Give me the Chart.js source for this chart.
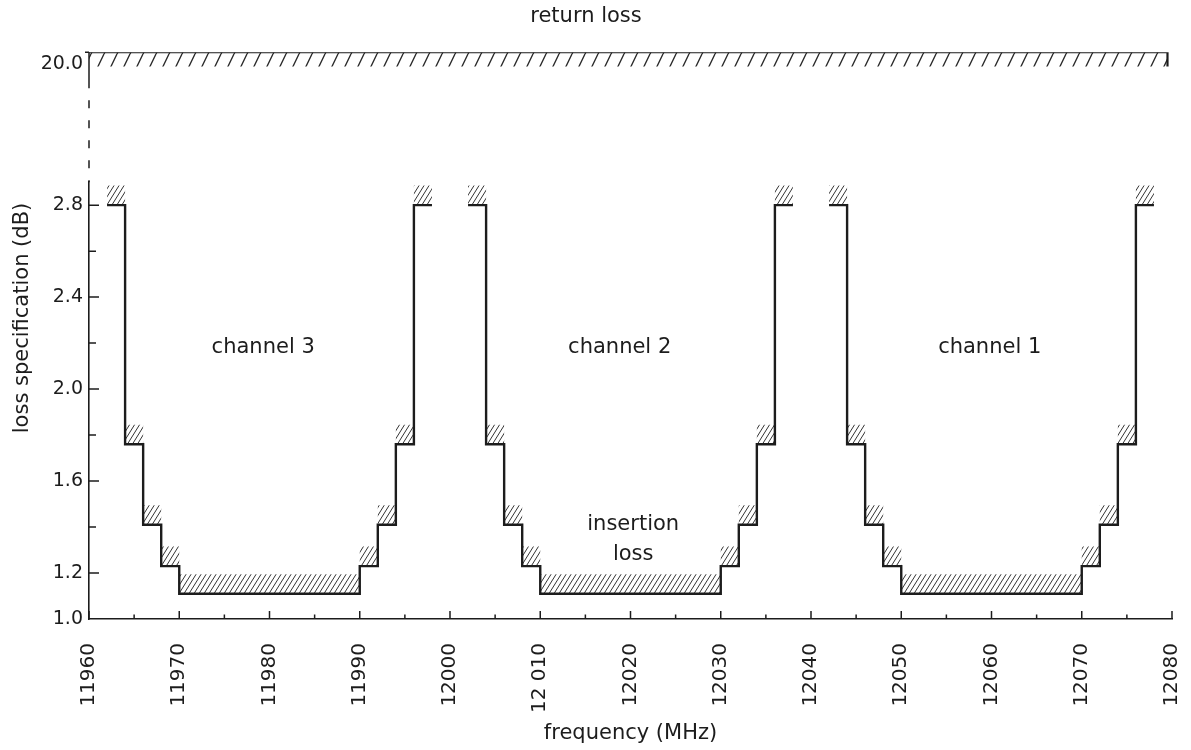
<!DOCTYPE html>
<html>
<head>
<meta charset="utf-8">
<title>return loss / insertion loss spec</title>
<script src="https://cdn.jsdelivr.net/npm/chart.js@4.4.1/dist/chart.umd.min.js"></script>
<style>
  html, body { margin: 0; background: #fff; }
  #wrap { width: 1191px; height: 750px; }
</style>
</head>
<body>
<div id="wrap"><canvas id="lossChart"></canvas></div>
<script>
// step breakpoints (MHz) and the spec level (dB) on each interval between them
const ch3Freq = [11962, 11964, 11966, 11968, 11970, 11990, 11992, 11994, 11996, 11998];
const ch2Freq = [12002, 12004, 12006, 12008, 12010, 12030, 12032, 12034, 12036, 12038];
const ch1Freq = [12042, 12044, 12046, 12048, 12050, 12070, 12072, 12074, 12076, 12078];
const ch3Loss = [2.80, 1.76, 1.41, 1.23, 1.11, 1.23, 1.41, 1.76, 2.80];
const ch2Loss = [2.80, 1.76, 1.41, 1.23, 1.11, 1.23, 1.41, 1.76, 2.80];
const ch1Loss = [2.80, 1.76, 1.41, 1.23, 1.11, 1.23, 1.41, 1.76, 2.80];

const returnLossFreq = [11960, 12079.5];
const returnLossLevel = 20.0;

const xTickValues = [11960, 11965, 11970, 11975, 11980, 11985, 11990, 11995, 12000, 12005, 12010, 12015, 12020,
  12025, 12030, 12035, 12040, 12045, 12050, 12055, 12060, 12065, 12070, 12075, 12080];
const xTickLabels = ["11960", "", "11970", "", "11980", "", "11990", "", "12000", "", "12 010", "", "12020",
  "", "12030", "", "12040", "", "12050", "", "12060", "", "12070", "", "12080"];
const yTickValues = [1.0, 1.2, 1.4, 1.6, 1.8, 2.0, 2.2, 2.4, 2.6, 2.8];
const yTickLabels = ["1.0", "1.2", "", "1.6", "", "2.0", "", "2.4", "", "2.8"];

const noteText = ["channel 3", "channel 2", "channel 1", "insertion", "loss"];
const noteFreq = [11979.3, 12018.8, 12059.8, 12020.3, 12020.3];
const noteLoss = [2.18, 2.18, 2.18, 1.41, 1.28];

const INK = "#1c1c1c";
const FONT = "'DejaVu Sans', sans-serif";
const HATCH_DEPTH = 0.085;   // dB, insertion loss hatch band
const RL_HATCH_DEPTH = 0.11; // on the broken top scale

function hatch(w, h, lw, color) {
  const c = document.createElement("canvas");
  c.width = w;
  c.height = h;
  const g = c.getContext("2d");
  g.strokeStyle = color;
  g.lineWidth = lw;
  g.beginPath();
  for (const k of [-1, 0, 1]) {
    g.moveTo(k * w, h);
    g.lineTo(k * w + w, 0);
  }
  g.stroke();
  return g.createPattern(c, "repeat");
}

function steps(freq, loss, lift) {
  const pts = [];
  loss.forEach((v, i) => {
    pts.push({ x: freq[i], y: v + lift }, { x: freq[i + 1], y: v + lift });
  });
  return pts;
}

const fineHatch = hatch(5, 8, 1, "#333");
const coarseHatch = hatch(13, 27, 1.4, "#2a2a2a");

function channelSets(freq, loss) {
  return [
    { data: steps(freq, loss, 0), borderColor: INK, borderWidth: 2.4, pointRadius: 0, fill: false, yAxisID: "y" },
    { data: steps(freq, loss, HATCH_DEPTH), showLine: false, borderColor: "transparent", pointRadius: 0,
      fill: "-1", backgroundColor: fineHatch, yAxisID: "y" },
  ];
}

const rlLine = [
  { x: returnLossFreq[0], y: returnLossLevel },
  { x: returnLossFreq[1], y: returnLossLevel },
  { x: returnLossFreq[1], y: returnLossLevel - RL_HATCH_DEPTH },
];
const rlHatch = [
  { x: returnLossFreq[0], y: returnLossLevel - RL_HATCH_DEPTH },
  { x: returnLossFreq[1], y: returnLossLevel - RL_HATCH_DEPTH },
];

const decor = {
  id: "decor",
  afterDraw(chart) {
    const { ctx, chartArea: a, scales: { x, y, y2 } } = chart;
    ctx.save();
    ctx.strokeStyle = INK;
    ctx.lineWidth = 1.5;
    ctx.beginPath();
    // inward ticks
    x.ticks.forEach((t, i) => {
      const px = x.getPixelForValue(t.value);
      const len = xTickLabels[i] ? 8 : 4.5;
      ctx.moveTo(px, a.bottom);
      ctx.lineTo(px, a.bottom - len);
    });
    y.ticks.forEach((t, i) => {
      if (i === 0) return;
      const py = y.getPixelForValue(t.value);
      const len = yTickLabels[i] ? 10 : 7;
      ctx.moveTo(a.left, py);
      ctx.lineTo(a.left + len, py);
    });
    // broken axis on the top scale
    ctx.moveTo(a.left - 4, y2.getPixelForValue(20));
    ctx.lineTo(a.left, y2.getPixelForValue(20));
    ctx.moveTo(a.left, y2.top);
    ctx.lineTo(a.left, y2.top + 36);
    ctx.stroke();
    ctx.setLineDash([8, 12]);
    ctx.beginPath();
    ctx.moveTo(a.left, y2.top + 48);
    ctx.lineTo(a.left, y2.bottom);
    ctx.stroke();
    ctx.setLineDash([]);

    // notes inside the plot
    ctx.fillStyle = INK;
    ctx.font = "21px " + FONT;
    ctx.textAlign = "center";
    ctx.textBaseline = "middle";
    noteText.forEach((s, i) => {
      ctx.fillText(s, x.getPixelForValue(noteFreq[i]), y.getPixelForValue(noteLoss[i]));
    });

    // y axis title
    ctx.translate(23, 318);
    ctx.rotate(-Math.PI / 2);
    ctx.fillText("loss specification (dB)", 0, 0);
    ctx.restore();
  },
};

new Chart(document.getElementById("lossChart"), {
  type: "line",
  data: {
    datasets: [
      ...channelSets(ch3Freq, ch3Loss),
      ...channelSets(ch2Freq, ch2Loss),
      ...channelSets(ch1Freq, ch1Loss),
      { data: rlLine, borderColor: INK, borderWidth: 2.2, pointRadius: 0, fill: false, yAxisID: "y2" },
      { data: rlHatch, showLine: false, borderColor: "transparent", pointRadius: 0,
        fill: "-1", backgroundColor: coarseHatch, yAxisID: "y2" },
    ],
  },
  options: {
    responsive: true,
    maintainAspectRatio: false,
    animation: false,
    layout: { padding: { left: 0, right: 19, top: 0, bottom: 0 } },
    plugins: {
      legend: { display: false },
      tooltip: { enabled: false },
      title: {
        display: true,
        text: "return loss",
        color: INK,
        font: { family: FONT, size: 21, weight: "normal" },
        padding: { top: 4, bottom: 23 },
      },
    },
    scales: {
      x: {
        type: "linear",
        min: 11960,
        max: 12080,
        grid: { display: false },
        border: { display: true, color: INK, width: 1.6 },
        ticks: {
          autoSkip: false,
          minRotation: 90,
          maxRotation: 90,
          padding: 16,
          color: INK,
          font: { family: FONT, size: 20 },
          callback: (v, i) => xTickLabels[i],
        },
        afterBuildTicks: s => { s.ticks = xTickValues.map(v => ({ value: v })); },
        title: {
          display: true,
          text: "frequency (MHz)",
          color: INK,
          font: { family: FONT, size: 21 },
          padding: { top: 0, bottom: 4 },
        },
        afterFit: s => {
          s.height = 131;
          s.paddingLeft = 0;
          s.paddingRight = 0;
        },
      },
      y: {
        type: "linear",
        position: "left",
        stack: "loss",
        stackWeight: 437,
        weight: 1,
        min: 1.0,
        max: 2.9,
        grid: { display: false, tickLength: 0 },
        border: { display: true, color: INK, width: 1.6 },
        ticks: {
          autoSkip: false,
          padding: 6,
          color: INK,
          font: { family: FONT, size: 19 },
          callback: (v, i) => yTickLabels[i],
        },
        afterBuildTicks: s => { s.ticks = yTickValues.map(v => ({ value: v })); },
        afterFit: s => {
          s.width = 89;
          s.paddingTop = 0;
          s.paddingBottom = 0;
        },
      },
      y2: {
        type: "linear",
        position: "left",
        stack: "loss",
        stackWeight: 130,
        weight: 2,
        min: 19,
        max: 20,
        grid: { display: false, tickLength: 0 },
        border: { display: false },
        ticks: {
          padding: 6,
          labelOffset: 12,
          color: INK,
          font: { family: FONT, size: 19 },
          callback: () => "20.0",
        },
        afterBuildTicks: s => { s.ticks = [{ value: returnLossLevel }]; },
        afterFit: s => {
          s.width = 89;
          s.paddingTop = 0;
          s.paddingBottom = 0;
        },
      },
    },
  },
  plugins: [decor],
});
</script>
</body>
</html>
